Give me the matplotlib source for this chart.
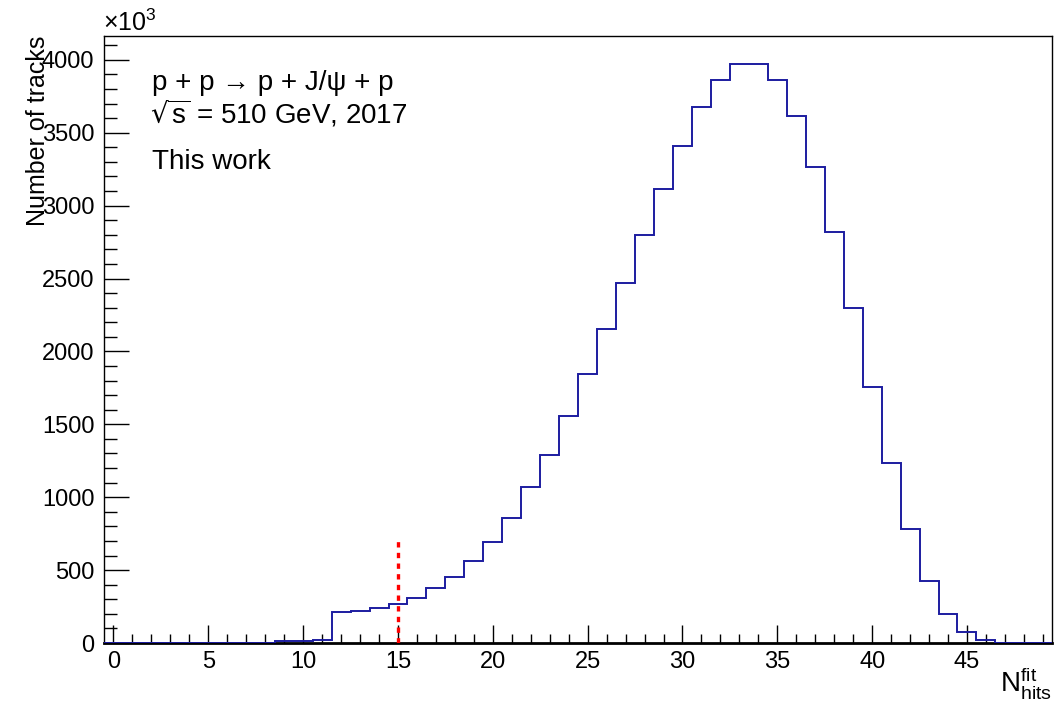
import numpy as np
import matplotlib
matplotlib.use("Agg")
import matplotlib.pyplot as plt
from matplotlib.ticker import MultipleLocator

plt.rcParams['font.family'] = ['Liberation Sans', 'DejaVu Sans']
plt.rcParams['mathtext.default'] = 'regular'

# N_hits^fit bins (centred on integers), counts in units of 10^3
bin_edges = np.arange(-0.5, 50.0, 1.0)
counts = [0, 0, 0, 0, 0, 0, 0, 0, 0, 14,
          14, 23, 213, 222, 242, 268, 311, 375, 455, 565,
          695, 860, 1068, 1292, 1560, 1848, 2154, 2468, 2801, 3115,
          3412, 3673, 3861, 3970, 3970, 3861, 3618, 3268, 2818, 2298,
          1759, 1237, 780, 427, 197, 73, 18, 3, 0, 0]
cut_value = 15
cut_height = 720

fig = plt.figure(figsize=(10.56, 7.04), dpi=100)
ax = fig.add_axes([0.0985, 0.0866, 0.898, 0.8626])

ax.stairs(counts, bin_edges, color='#1c1ca0', linewidth=1.4, zorder=3)
ax.vlines(cut_value, 0, cut_height, color='red', linewidth=2.4,
          linestyles=(0, (1.6, 1.6)), zorder=4)

ax.set_xlim(-0.5, 49.5)
ax.set_ylim(0, 4165)

ax.xaxis.set_major_locator(MultipleLocator(5))
ax.xaxis.set_minor_locator(MultipleLocator(1))
ax.yaxis.set_major_locator(MultipleLocator(500))
ax.yaxis.set_minor_locator(MultipleLocator(100))
ax.tick_params(axis='x', which='major', direction='in', length=13, width=1, labelsize=17, pad=6)
ax.tick_params(axis='x', which='minor', direction='in', length=6.5, width=1)
ax.tick_params(axis='y', which='major', direction='in', length=18, width=1, labelsize=17, pad=7)
ax.tick_params(axis='y', which='minor', direction='in', length=9.5, width=1)
for s in ax.spines.values():
    s.set_linewidth(1.0)
ax.spines['bottom'].set_linewidth(2.0)

fig.text(0.098, 0.956, r'$\times10^{3}$', fontsize=18, ha='left', va='baseline')
# y label overlaps the tick labels, as in the original ROOT canvas
fig.text(0.036, 0.950, 'Number of tracks', fontsize=18, rotation=90, ha='center', va='top')
fig.text(0.996, 0.004, r'$N_{hits}^{fit}$', fontsize=20, ha='right', va='bottom')

fig.text(0.144, 0.872, 'p + p → p + J/ψ + p', fontsize=20, ha='left', va='baseline')
fig.text(0.142, 0.824, r'$\sqrt{s}$ = 510 GeV, 2017', fontsize=20, ha='left', va='baseline')
fig.text(0.144, 0.760, 'This work', fontsize=20, ha='left', va='baseline')

fig.savefig('out.png', dpi=100)
